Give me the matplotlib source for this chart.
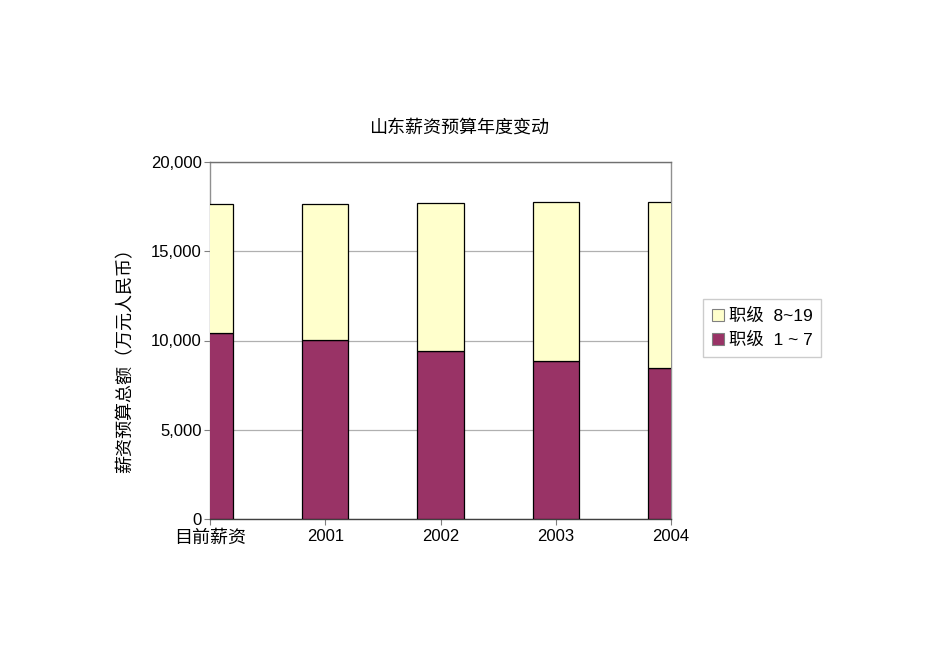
import matplotlib
matplotlib.use("Agg")
import matplotlib.pyplot as plt
from matplotlib import font_manager as fm

categories = ["目前薪资", "2001", "2002", "2003", "2004"]
grade_1_7 = [10420, 10030, 9410, 8860, 8460]
grade_8_19 = [7230, 7620, 8290, 8890, 9300]
series_names = ["职级  8~19", "职级  1 ~ 7"]
yticks = [0, 5000, 10000, 15000, 20000]

names = {f.name for f in fm.fontManager.ttflist}
narrow = "Liberation Sans Narrow" if "Liberation Sans Narrow" in names else "Liberation Sans"
fam = [narrow, "Noto Sans CJK SC", "DejaVu Sans"]
cjk = ["Noto Sans CJK SC", "DejaVu Sans"]
plt.rcParams["font.family"] = fam

fig = plt.figure(figsize=(9.5, 6.72), dpi=100)
ax = fig.add_axes([210/950, 1-519/672, 461/950, 357/672])

x = list(range(len(categories)))
w = 0.4
b1 = ax.bar(x, grade_1_7, w, color="#993366", edgecolor="black", linewidth=0.9, zorder=3)
b2 = ax.bar(x, grade_8_19, w, bottom=grade_1_7, color="#FFFFCC", edgecolor="black", linewidth=0.9, zorder=3)

ax.set_xlim(0, len(categories) - 1)
ax.set_ylim(0, 20000)
ax.set_yticks(yticks)
ax.set_yticklabels([f"{v:,}" for v in yticks], fontsize=12)
ax.set_xticks(x)
ax.set_xticklabels(categories, fontsize=12)
for lab in ax.get_xticklabels():
    if lab.get_text() == "目前薪资":
        lab.set_fontfamily(cjk)
        lab.set_fontsize(13)
ax.grid(axis="y", color="#b0b0b0", linewidth=0.9, zorder=0)
ax.tick_params(axis="y", length=4, color="#808080", pad=2)
ax.tick_params(axis="x", length=4, color="#808080", pad=3)
ax.spines["left"].set_color("#909090")
ax.spines["right"].set_color("#909090")
ax.spines["top"].set_color("#707070")
ax.spines["bottom"].set_color("#404040")
for s in ax.spines.values():
    s.set_linewidth(1.0)

fig.text(459/950, 1-128/672, "山东薪资预算年度变动", ha="center", va="center",
         fontsize=13, family=cjk)
fig.text(125/950, 1-356/672, "薪资预算总额（万元人民币）", ha="center", va="center",
         rotation=90, fontsize=13, family=cjk)

leg = fig.legend([b2, b1], series_names, loc="center left",
                 bbox_to_anchor=(703/950, 1-328/672), frameon=True, fancybox=False,
                 prop={"family": fam, "size": 12.5}, handlelength=0.7, handleheight=0.7,
                 handletextpad=0.3, borderpad=0.5, labelspacing=0.45, borderaxespad=0)
leg.get_frame().set_edgecolor("#c0c0c0")
leg.get_frame().set_linewidth(1.0)
for h in leg.legend_handles:
    h.set_edgecolor("#808080")
    h.set_linewidth(0.8)

fig.savefig("out.png", dpi=100)
